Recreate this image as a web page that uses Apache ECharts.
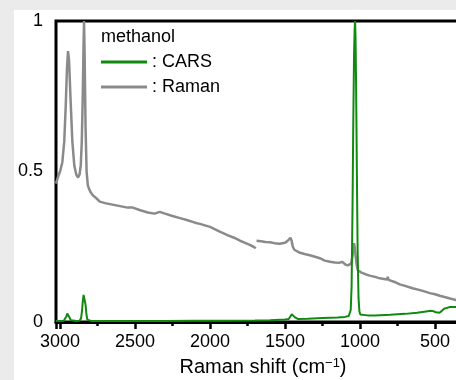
<!DOCTYPE html>
<html>
<head>
<meta charset="utf-8">
<script src="https://cdn.jsdelivr.net/npm/echarts@6/dist/echarts.min.js"></script>
<style>
  html, body { margin:0; padding:0; }
  #wrap { position:relative; width:456px; height:380px; background:#ebebeb; overflow:hidden; }
  #card { position:absolute; left:14px; top:10px; width:442px; height:370px; background:#ffffff; }
  #chart { position:absolute; left:0; top:0; width:540px; height:380px; }
</style>
</head>
<body>
<div id="wrap"><div id="card"></div><div id="chart"></div></div>
<script>
// ---- data (Raman shift in cm^-1, normalized intensity) ----
const seriesNames = ['CARS', 'Raman'];
const xTicks = [3000, 2500, 2000, 1500, 1000, 500];
const yTicks = [0, 0.5, 1];

const ramanX = [3027, 3015, 3000, 2985, 2972, 2962, 2954, 2947, 2940, 2930, 2918, 2905, 2892, 2880, 2870, 2862, 2855, 2849, 2844, 2840, 2836, 2830, 2823, 2815, 2805, 2795, 2780, 2760, 2735, 2700, 2650, 2600, 2550, 2515, 2470, 2415, 2370, 2335, 2300, 2250, 2200, 2150, 2100, 2068, 2000, 1935, 1880, 1840, 1800, 1770, 1735, 1710, 1695,
  null,
  1690, 1660, 1630, 1600, 1570, 1535, 1500, 1482, 1472, 1464, 1456, 1448, 1438, 1428, 1400, 1370, 1335, 1300, 1268, 1235, 1200, 1168, 1135, 1120, 1108, 1095, 1080, 1068, 1058, 1050, 1044, 1040, 1036, 1030, 1022, 1015, 1005, 990, 960, 935, 900, 868, 840, 820, 815, 810, 800, 770, 735, 700, 650, 600, 560, 535, 500, 468, 430, 400, 360, 340];
const ramanY = [0.46, 0.48, 0.50, 0.53, 0.60, 0.72, 0.84, 0.90, 0.87, 0.74, 0.60, 0.52, 0.49, 0.48, 0.49, 0.52, 0.60, 0.74, 0.90, 1.00, 0.88, 0.65, 0.50, 0.455, 0.44, 0.43, 0.42, 0.412, 0.40, 0.395, 0.39, 0.385, 0.38, 0.38, 0.372, 0.364, 0.36, 0.366, 0.36, 0.352, 0.345, 0.338, 0.33, 0.326, 0.316, 0.30, 0.288, 0.28, 0.27, 0.264, 0.256, 0.25, 0.245,
  null,
  0.27, 0.268, 0.266, 0.265, 0.262, 0.26, 0.263, 0.27, 0.276, 0.28, 0.27, 0.25, 0.24, 0.236, 0.23, 0.226, 0.222, 0.217, 0.212, 0.204, 0.20, 0.198, 0.197, 0.20, 0.198, 0.19, 0.188, 0.184, 0.195, 0.22, 0.25, 0.262, 0.25, 0.222, 0.19, 0.172, 0.167, 0.164, 0.158, 0.154, 0.15, 0.145, 0.143, 0.141, 0.15, 0.14, 0.138, 0.133, 0.125, 0.12, 0.112, 0.106, 0.10, 0.096, 0.092, 0.087, 0.082, 0.078, 0.073, 0.07];

const carsX = [3027, 3000, 2975, 2965, 2958, 2952, 2947, 2942, 2936, 2928, 2915, 2890, 2870, 2860, 2854, 2848, 2843, 2839, 2835, 2830, 2824, 2818, 2810, 2790, 2700, 2500, 2300, 2100, 1900, 1700, 1600, 1500, 1475, 1462, 1455, 1448, 1442, 1436, 1428, 1415, 1350, 1250, 1150, 1100, 1075, 1062, 1056, 1050, 1045, 1040, 1036, 1033, 1030, 1026, 1021, 1016, 1010, 1004, 998, 990, 950, 900, 800, 700, 620, 560, 530, 510, 495, 485, 470, 455, 440, 420, 400, 380, 360, 340];
const carsY = [0.003, 0.003, 0.004, 0.008, 0.018, 0.028, 0.031, 0.026, 0.014, 0.006, 0.003, 0.003, 0.004, 0.012, 0.035, 0.07, 0.09, 0.093, 0.085, 0.058, 0.025, 0.008, 0.004, 0.003, 0.003, 0.003, 0.003, 0.004, 0.004, 0.005, 0.006, 0.008, 0.01, 0.016, 0.026, 0.032, 0.026, 0.016, 0.011, 0.01, 0.011, 0.013, 0.015, 0.017, 0.02, 0.04, 0.12, 0.38, 0.66, 0.88, 0.97, 1.0, 0.95, 0.78, 0.5, 0.24, 0.08, 0.035, 0.025, 0.022, 0.022, 0.022, 0.024, 0.027, 0.031, 0.035, 0.037, 0.036, 0.032, 0.029, 0.031, 0.037, 0.044, 0.047, 0.05, 0.05, 0.05, 0.05];

function pairs(xs, ys) {
  return xs.map((x, i) => (x === null ? [null, null] : [x, ys[i]]));
}

const FONT = "'Liberation Sans', Arial, sans-serif";
const chart = echarts.init(document.getElementById('chart'), null, { renderer: 'canvas' });

chart.setOption({
  animation: false,
  backgroundColor: 'transparent',
  textStyle: { fontFamily: FONT },
  title: {
    text: 'methanol', left: 101, top: 28, padding: 0,
    textStyle: { fontFamily: FONT, fontSize: 18, fontWeight: 'normal', color: '#000' }
  },
  legend: {
    orient: 'vertical', left: 101, top: 53, padding: 0, itemGap: 7,
    icon: 'rect', itemWidth: 46, itemHeight: 3,
    formatter: ': {name}',
    textStyle: { fontFamily: FONT, fontSize: 18, color: '#000' },
    data: seriesNames
  },
  grid: {
    left: 56, width: 454, top: 21, height: 301,
    outerBoundsMode: 'none',
    show: true, borderColor: '#000', borderWidth: 3, backgroundColor: 'transparent'
  },
  xAxis: {
    type: 'value', inverse: true, min: 0, max: 3027, interval: 500,
    axisLine: { show: true, lineStyle: { color: '#000', width: 3 } },
    axisTick: { show: true, inside: false, length: 7, lineStyle: { color: '#000', width: 2.5 } },
    minorTick: { show: true, splitNumber: 2, length: 4, lineStyle: { color: '#000', width: 2.5 } },
    splitLine: { show: false },
    axisLabel: {
      margin: 11, fontSize: 18, color: '#000', fontFamily: FONT,
      formatter: v => (xTicks.indexOf(v) >= 0 ? String(v) : '')
    }
  },
  yAxis: {
    type: 'value', min: 0, max: 1, interval: 0.5,
    axisLine: { show: true, lineStyle: { color: '#000', width: 3 } },
    axisTick: { show: true, inside: false, length: 8, lineStyle: { color: '#000', width: 2.5 } },
    splitLine: { show: false },
    axisLabel: {
      margin: 13, fontSize: 18, color: '#000', fontFamily: FONT,
      formatter: v => (yTicks.indexOf(v) >= 0 ? String(v) : '')
    }
  },
  graphic: [{
    type: 'text', x: 263, y: 367,
    style: {
      text: 'Raman shift (cm{sup|−1})',
      fontFamily: FONT, fontSize: 20, fill: '#000',
      align: 'center', verticalAlign: 'middle',
      rich: { sup: { fontSize: 13, lineHeight: 13, verticalAlign: 'top', fontFamily: FONT, fill: '#000' } }
    }
  }],
  series: [
    {
      name: 'CARS', type: 'line', data: pairs(carsX, carsY),
      showSymbol: false, symbol: 'none', z: 4,
      lineStyle: { color: '#0f8a0f', width: 2 }, itemStyle: { color: '#0f8a0f' }
    },
    {
      name: 'Raman', type: 'line', data: pairs(ramanX, ramanY),
      showSymbol: false, symbol: 'none', connectNulls: false, z: 3,
      lineStyle: { color: '#8a8a8a', width: 2.5 }, itemStyle: { color: '#8a8a8a' }
    }
  ]
});
</script>
</body>
</html>
